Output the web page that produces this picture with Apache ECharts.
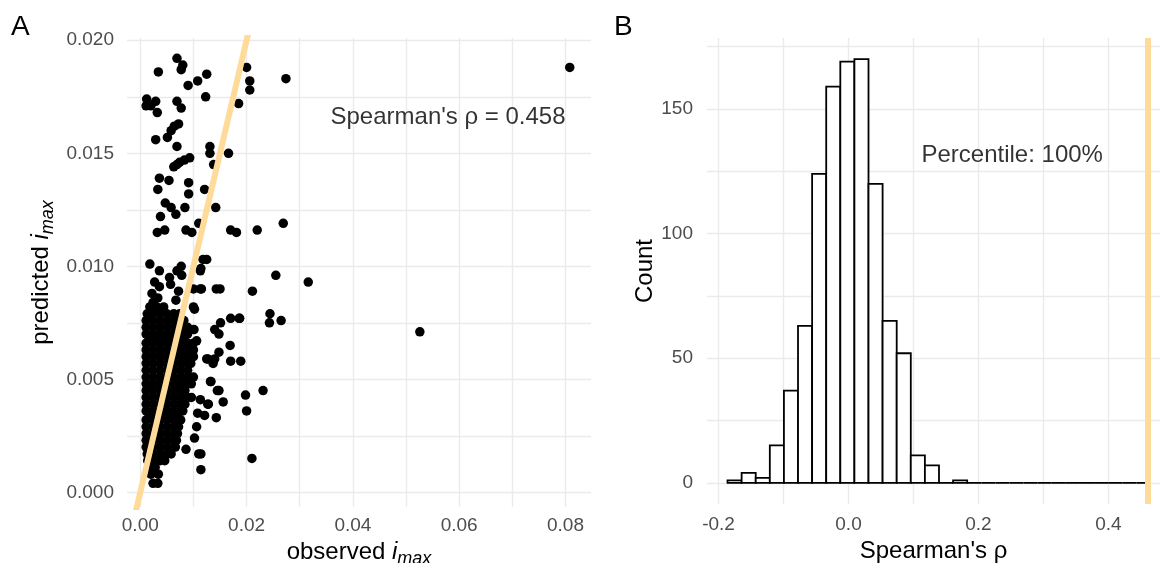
<!DOCTYPE html>
<html><head><meta charset="utf-8">
<script src="https://cdn.jsdelivr.net/npm/echarts@6/dist/echarts.min.js"></script>
<style>html,body{margin:0;padding:0;background:#fff}#c{width:1161px;height:563px}</style>
</head><body><div id="c"></div>
<script>
// ---------- Panel A data: observed vs predicted i_max ----------
const scatterPoints = [
 [0.0069,0.0192],[0.0080,0.0189],[0.0077,0.0187],[0.0034,0.0186],[0.0125,0.0185],[0.0108,0.0182],[0.0090,0.0180],
 [0.0123,0.0175],[0.0012,0.0174],[0.0029,0.0173],[0.0011,0.0171],[0.0020,0.0171],[0.0032,0.0168],[0.0069,0.0173],
 [0.0077,0.0170],[0.0072,0.0163],[0.0064,0.0162],[0.0058,0.0160],[0.0051,0.0157],[0.0029,0.0156],[0.0069,0.0153],
 [0.0131,0.0153],[0.0131,0.0150],[0.0093,0.0148],[0.0083,0.0147],[0.0074,0.0146],[0.0069,0.0145],[0.0063,0.0144],
 [0.0138,0.0145],[0.0036,0.0139],[0.0054,0.0138],[0.0033,0.0134],[0.0091,0.0137],[0.0091,0.0132],[0.0121,0.0134],
 [0.0200,0.0188],[0.0206,0.0182],[0.0206,0.0178],[0.0274,0.0183],[0.0185,0.0172],[0.0166,0.0150],[0.0808,0.0188],
 [0.0269,0.0119],[0.0255,0.0096],[0.0316,0.0093],[0.0244,0.0079],[0.0243,0.0075],[0.0265,0.0076],[0.0526,0.0071],
 [0.0231,0.0045],[0.0142,0.0126],[0.0170,0.0116],[0.0181,0.0115],[0.0220,0.0116],[0.0118,0.0103],[0.0125,0.0103],
 [0.0114,0.0099],[0.0115,0.0090],[0.0150,0.0090],[0.0211,0.0089],[0.0170,0.0077],[0.0186,0.0077],[0.0151,0.0075],
 [0.0148,0.0070],[0.0169,0.0065],[0.0148,0.0062],[0.0140,0.0059],[0.0125,0.0059],[0.0137,0.0057],[0.0170,0.0058],
 [0.0189,0.0058],[0.0133,0.0049],[0.0148,0.0045],[0.0198,0.0043],[0.0156,0.0040],[0.0128,0.0039],[0.0121,0.0034],
 [0.0143,0.0033],[0.0200,0.0036],[0.0210,0.0015],[0.0114,0.0017],[0.0114,0.0010],
 [0.0047,0.0128],[0.0058,0.0126],[0.0067,0.0123],[0.0084,0.0126],[0.0038,0.0122],[0.0032,0.0115],[0.0046,0.0116],
 [0.0086,0.0116],[0.0097,0.0115],[0.0110,0.0119],[0.0018,0.0101],[0.0036,0.0098],[0.0077,0.0100],[0.0069,0.0098],
 [0.0078,0.0096],[0.0113,0.0098],[0.0055,0.0095],[0.0057,0.0092],[0.0027,0.0093],[0.0036,0.0091],[0.0072,0.0089],
 [0.0067,0.0085],[0.0100,0.0090],[0.0113,0.0090],[0.0102,0.0081],[0.0143,0.0090],[0.0101,0.0072],[0.0106,0.0067],
 [0.0140,0.0072],[0.0127,0.0059],[0.0132,0.0049],[0.0145,0.0045],[0.0113,0.0041],[0.0127,0.0039],[0.0108,0.0035],
 [0.0106,0.0029],[0.0102,0.0024],[0.0086,0.0019],[0.0110,0.0017],[0.0187,0.0077],
 [0.0022,0.0088],[0.0033,0.0086],[0.0024,0.0084],
 [0.0018,0.0082],[0.0031,0.0082],[0.0044,0.0082],[0.0100,0.0082],
 [0.0013,0.0079],[0.0024,0.0079],[0.0037,0.0079],[0.0050,0.0079],[0.0063,0.0079],[0.0074,0.0079],
 [0.0011,0.0076],[0.0024,0.0076],[0.0037,0.0076],[0.0050,0.0076],[0.0063,0.0076],[0.0076,0.0076],[0.0082,0.0076],
 [0.0011,0.0073],[0.0024,0.0073],[0.0037,0.0073],[0.0050,0.0073],[0.0063,0.0073],[0.0076,0.0073],[0.0089,0.0073],
 [0.0011,0.0070],[0.0024,0.0070],[0.0037,0.0070],[0.0050,0.0070],[0.0063,0.0070],[0.0076,0.0070],[0.0089,0.0070],
 [0.0017,0.0068],[0.0030,0.0068],[0.0043,0.0068],[0.0056,0.0068],[0.0069,0.0068],[0.0082,0.0068],
 [0.0011,0.0066],[0.0024,0.0066],[0.0037,0.0066],[0.0050,0.0066],[0.0063,0.0066],[0.0076,0.0066],[0.0089,0.0066],[0.0100,0.0066],
 [0.0011,0.0063],[0.0024,0.0063],[0.0037,0.0063],[0.0050,0.0063],[0.0063,0.0063],[0.0076,0.0063],[0.0089,0.0063],[0.0100,0.0063],
 [0.0011,0.0060],[0.0024,0.0060],[0.0037,0.0060],[0.0050,0.0060],[0.0063,0.0060],[0.0076,0.0060],[0.0089,0.0060],[0.0100,0.0060],
 [0.0011,0.0057],[0.0024,0.0057],[0.0037,0.0057],[0.0050,0.0057],[0.0063,0.0057],[0.0076,0.0057],[0.0089,0.0057],[0.0095,0.0057],
 [0.0011,0.0054],[0.0024,0.0054],[0.0037,0.0054],[0.0050,0.0054],[0.0063,0.0054],[0.0076,0.0054],[0.0089,0.0054],
 [0.0011,0.0051],[0.0024,0.0051],[0.0037,0.0051],[0.0050,0.0051],[0.0063,0.0051],[0.0076,0.0051],[0.0089,0.0051],[0.0100,0.0051],
 [0.0011,0.0048],[0.0024,0.0048],[0.0037,0.0048],[0.0050,0.0048],[0.0063,0.0048],[0.0076,0.0048],[0.0089,0.0048],[0.0096,0.0048],
 [0.0011,0.0045],[0.0024,0.0045],[0.0037,0.0045],[0.0050,0.0045],[0.0063,0.0045],[0.0076,0.0045],[0.0084,0.0045],
 [0.0011,0.0042],[0.0024,0.0042],[0.0037,0.0042],[0.0050,0.0042],[0.0063,0.0042],[0.0076,0.0042],[0.0089,0.0042],[0.0096,0.0042],
 [0.0011,0.0039],[0.0024,0.0039],[0.0037,0.0039],[0.0050,0.0039],[0.0063,0.0039],[0.0076,0.0039],[0.0084,0.0039],
 [0.0011,0.0036],[0.0024,0.0036],[0.0037,0.0036],[0.0050,0.0036],[0.0063,0.0036],[0.0076,0.0036],[0.0080,0.0036],
 [0.0017,0.0034],[0.0030,0.0034],[0.0043,0.0034],[0.0056,0.0034],[0.0069,0.0034],
 [0.0011,0.0032],[0.0024,0.0032],[0.0037,0.0032],[0.0050,0.0032],[0.0063,0.0032],[0.0076,0.0032],
 [0.0011,0.0029],[0.0024,0.0029],[0.0037,0.0029],[0.0050,0.0029],[0.0063,0.0029],[0.0072,0.0029],
 [0.0011,0.0026],[0.0024,0.0026],[0.0037,0.0026],[0.0050,0.0026],[0.0063,0.0026],[0.0070,0.0026],
 [0.0011,0.0023],[0.0024,0.0023],[0.0037,0.0023],[0.0050,0.0023],[0.0063,0.0023],[0.0068,0.0023],
 [0.0011,0.0020],[0.0024,0.0020],[0.0037,0.0020],[0.0050,0.0020],[0.0063,0.0020],[0.0066,0.0020],
 [0.0013,0.0017],[0.0024,0.0017],[0.0037,0.0017],[0.0050,0.0017],[0.0058,0.0017],
 [0.0014,0.0014],[0.0024,0.0014],[0.0037,0.0014],[0.0046,0.0014],
 [0.0016,0.0011],[0.0028,0.0011],
 [0.0020,0.0008],[0.0034,0.0008],[0.0024,0.0004],[0.0033,0.0004]
];
const identityLine = [[-0.002,-0.002],[0.022,0.022]];
const scatterXTicks = [0, 0.02, 0.04, 0.06, 0.08];
const scatterXGrid = [0, 0.01, 0.02, 0.03, 0.04, 0.05, 0.06, 0.07, 0.08];
const scatterYTicks = [0, 0.005, 0.01, 0.015, 0.02];
const scatterYGrid = [0, 0.0025, 0.005, 0.0075, 0.01, 0.0125, 0.015, 0.0175, 0.02];
const rhoLabel = "Spearman's ρ = 0.458";
const rhoLabelAt = [0.0579, 0.0166];

// ---------- Panel B data: permutation histogram ----------
const histBinEdges = [-0.1862,-0.1645,-0.1428,-0.1211,-0.0994,-0.0777,-0.0560,-0.0343,-0.0126,0.0091,
  0.0308,0.0525,0.0742,0.0959,0.1176,0.1393,0.1610,0.1827,0.2044,0.2261,
  0.2478,0.2695,0.2912,0.3129,0.3346,0.3563,0.3780,0.3997,0.4214,0.4431,0.4648];
const histCounts = [1,4,2,15,37,63,124,159,169,170,120,65,52,11,7,0,1,0,0,0,0,0,0,0,0,0,0,0,0,0];
const observedRho = 0.458;
const histXTicks = [-0.2, 0, 0.2, 0.4];
const histXGrid = [-0.2, -0.1, 0, 0.1, 0.2, 0.3, 0.4];
const histYTicks = [0, 50, 100, 150];
const histYGrid = [0, 25, 50, 75, 100, 125, 150, 175];
const percentileLabel = "Percentile: 100%";
const percentileLabelAt = [0.252, 131.5];

const FONT = "'Liberation Sans', Arial, Helvetica, sans-serif";
const GRID = '#EBEBEB';
const TICK = '#4D4D4D';
const GOLD = '#FFDB99';

const chart = echarts.init(document.getElementById('c'), null, {renderer: 'canvas'});

function nameRich() {
  return {
    fontFamily: FONT,
    rich: {
      n: {fontFamily: FONT, fontSize: 24, color: '#000', lineHeight: 32, verticalAlign: 'middle'},
      i: {fontFamily: FONT, fontSize: 24, color: '#000', fontStyle: 'italic', lineHeight: 32, verticalAlign: 'middle'},
      s: {fontFamily: FONT, fontSize: 18, color: '#000', fontStyle: 'italic', lineHeight: 20, verticalAlign: 'bottom'}
    }
  };
}
function valAxis(gridIndex, min, max, ticks, gridVals, fmt, extra) {
  return Object.assign({
    type: 'value', gridIndex, min, max,
    axisLine: {show: false},
    axisTick: {show: false, customValues: gridVals},
    axisLabel: {customValues: ticks, formatter: fmt, color: TICK, fontSize: 19, fontFamily: FONT},
    splitLine: {show: true, lineStyle: {color: GRID, width: 1.4}},
    minorSplitLine: {show: false}
  }, extra);
}

const option = {
  animation: false,
  backgroundColor: '#fff',
  graphic: [
    {type: 'text', left: 11, top: 13, style: {text: 'A', font: '28px ' + FONT, fill: '#000'}},
    {type: 'text', left: 614, top: 13, style: {text: 'B', font: '28px ' + FONT, fill: '#000'}}
  ],
  grid: [
    {left: 127, top: 38, width: 464, height: 469, containLabel: false, outerBoundsMode: 'none'},
    {left: 707, top: 38, width: 453, height: 466, containLabel: false, outerBoundsMode: 'none'}
  ],
  xAxis: [
    valAxis(0, -0.0025, 0.0848, scatterXTicks, scatterXGrid, v => v.toFixed(2), {
      axisLabel: {customValues: scatterXTicks, formatter: v => v.toFixed(2), color: TICK, fontSize: 19, fontFamily: FONT, margin: 9},
      name: '{n|observed }{i|i}{s|max}', nameLocation: 'middle', nameGap: 21, nameTextStyle: nameRich()
    }),
    valAxis(1, -0.2178, 0.4795, histXTicks, histXGrid, v => v.toFixed(1), {
      axisLabel: {customValues: histXTicks, formatter: v => v.toFixed(1), color: TICK, fontSize: 19, fontFamily: FONT, margin: 11},
      name: "Spearman's ρ", nameLocation: 'middle', nameGap: 34,
      nameTextStyle: {fontFamily: FONT, fontSize: 24, color: '#000'}
    })
  ],
  yAxis: [
    valAxis(0, -0.00065, 0.0201, scatterYTicks, scatterYGrid, v => v.toFixed(3), {
      axisLabel: {customValues: scatterYTicks, formatter: v => v.toFixed(3), color: TICK, fontSize: 19, fontFamily: FONT, margin: 13},
      name: '{n|predicted }{i|i}{s|max}', nameLocation: 'middle', nameGap: 70, nameRotate: 90, nameTextStyle: nameRich()
    }),
    valAxis(1, -8.5, 178.5, histYTicks, histYGrid, v => String(v), {
      axisLabel: {customValues: histYTicks, formatter: v => String(v), color: TICK, fontSize: 19, fontFamily: FONT, margin: 14},
      name: 'Count', nameLocation: 'middle', nameGap: 49, nameRotate: 90,
      nameTextStyle: {fontFamily: FONT, fontSize: 24, color: '#000'}
    })
  ],
  series: [
    {
      type: 'scatter', xAxisIndex: 0, yAxisIndex: 0, data: scatterPoints,
      symbol: 'circle', symbolSize: 9.5, itemStyle: {color: '#000', opacity: 1}, z: 2, silent: true
    },
    {
      type: 'line', xAxisIndex: 0, yAxisIndex: 0, data: identityLine, clip: true,
      symbol: 'none', lineStyle: {color: GOLD, width: 6}, z: 3, silent: true
    },
    {
      type: 'scatter', xAxisIndex: 0, yAxisIndex: 0, data: [rhoLabelAt], symbolSize: 0, z: 4, silent: true,
      label: {show: true, position: 'inside', formatter: rhoLabel, fontFamily: FONT, fontSize: 24, color: '#000'}
    },
    {
      type: 'custom', xAxisIndex: 1, yAxisIndex: 1, silent: true, z: 2,
      data: histCounts.map((c, i) => [histBinEdges[i], histBinEdges[i + 1], c]),
      encode: {x: [0, 1], y: 2},
      renderItem: function (params, api) {
        const p0 = api.coord([api.value(0), 0]);
        const p1 = api.coord([api.value(1), api.value(2)]);
        return {
          type: 'rect',
          shape: {x: p0[0], y: p1[1], width: p1[0] - p0[0], height: p0[1] - p1[1]},
          style: {fill: '#fff', stroke: '#000', lineWidth: 1.8}
        };
      },
      markLine: {
        silent: true, symbol: ['none', 'none'], label: {show: false},
        lineStyle: {color: GOLD, width: 6, type: 'solid'},
        data: [{xAxis: observedRho}]
      }
    },
    {
      type: 'scatter', xAxisIndex: 1, yAxisIndex: 1, data: [percentileLabelAt], symbolSize: 0, z: 4, silent: true,
      label: {show: true, position: 'inside', formatter: percentileLabel, fontFamily: FONT, fontSize: 24, color: '#000'}
    }
  ]
};
chart.setOption(option);
</script></body></html>
